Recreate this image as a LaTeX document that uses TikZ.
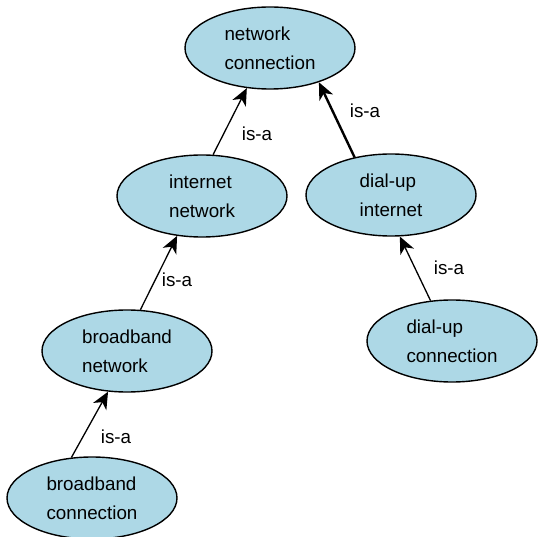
\documentclass[tikz,border=0pt]{standalone}
\usepackage{fontspec}
\setmainfont{Liberation Sans}
\usetikzlibrary{arrows.meta,shapes.geometric}
\definecolor{conceptblue}{RGB}{173,216,230}

\begin{document}
\begin{tikzpicture}[x=1pt,y=-1pt,
  concept/.style={ellipse, draw=black, line width=1.4pt, fill=conceptblue,
    minimum width=170pt, minimum height=82pt, inner sep=0pt, align=left,
    font=\fontsize{18.8}{29}\selectfont},
  isa/.style={draw=black, line width=1.3pt, -{Stealth[length=17pt,width=15pt,inset=5pt]}},
  rel/.style={inner sep=0pt, font=\fontsize{18.8}{22}\selectfont}]
\useasboundingbox (0,0) rectangle (538,537);
% concepts
\node[concept] (nc) at (270,48) {network\\connection};
\node[concept] (in) at (202,196) {internet\\network};
\node[concept] (du) at (391,195) {dial-up\\internet};
\node[concept] (bn) at (127,351) {broadband\\network};
\node[concept] (duc) at (452,341) {dial-up\\connection};
\node[concept] (bc) at (92,498) {broadband\\connection};
% is-a links
\draw[isa] (in.75) -- (nc.240);
\draw[isa, line width=2.4pt] (du.134) -- (nc.-35);
\draw[isa] (bn.72) -- (in.238);
\draw[isa] (duc.118) -- (du.-78);
\draw[isa] (bc.117) -- (bn.-115);
% labels
\node[rel] (l-in) at (257,134) {is-a};
\node[rel] (l-du) at (365,111) {is-a};
\node[rel] (l-bn) at (177,280) {is-a};
\node[rel] (l-duc) at (449,268) {is-a};
\node[rel] (l-bc) at (116,437) {is-a};
\end{tikzpicture}
\end{document}
